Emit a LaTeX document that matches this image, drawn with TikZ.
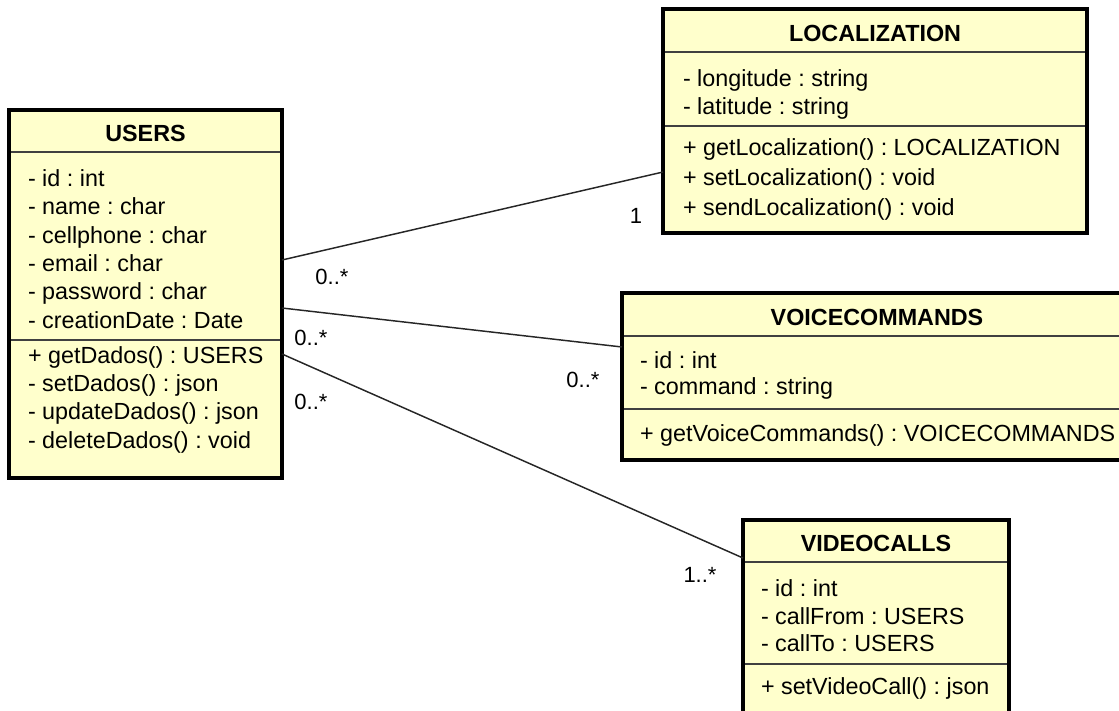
\documentclass[tikz,border=0pt]{standalone}
\usepackage{fontspec}
\setmainfont{Liberation Sans}
\usetikzlibrary{positioning,fit,calc}
\definecolor{umlfill}{RGB}{255,255,204}
\frenchspacing

\begin{document}
\begin{tikzpicture}[
  x=0.75pt, y=-0.75pt,
  every node/.style={inner sep=0pt, outer sep=0pt},
  classbox/.style={draw=black, line width=2.6pt, fill=umlfill},
  ctitle/.style={font=\fontsize{17.5}{21}\selectfont\bfseries},
  member/.style={anchor=west, font=\fontsize{17.5}{21}\selectfont, text height=12.5pt, text depth=3.5pt},
  mult/.style={font=\fontsize{16.5}{18}\selectfont, text height=11.5pt, text depth=0pt},
  sepline/.style={line width=1.1pt, draw=black!75},
  assoc/.style={line width=1.1pt, draw=black!85}
]
\useasboundingbox (0,0) rectangle (1119,710);
\clip (0,0) rectangle (1119,710);

% Class boxes (coordinates in px of the layout)
\node[classbox, fit={(9,110) (282,478)}]   (users) {};
\node[classbox, fit={(663,9) (1087,233)}]  (loc)   {};
\node[classbox, fit={(622,293) (1132,460)}] (voice) {};
\node[classbox, fit={(743,520) (1009,740)}] (video) {};

% Compartment lines
\draw[sepline] (9,152) -- (282,152);
\draw[sepline] (9,340) -- (282,340);
\draw[sepline] (663,52) -- (1087,52);
\draw[sepline] (663,126) -- (1087,126);
\draw[sepline] (622,336) -- (1132,336);
\draw[sepline] (622,409) -- (1132,409);
\draw[sepline] (743,562) -- (1009,562);
\draw[sepline] (743,664) -- (1009,664);
% redraw borders over the compartment lines
\draw[line width=2.6pt] (users.north west) rectangle (users.south east);
\draw[line width=2.6pt] (loc.north west) rectangle (loc.south east);
\draw[line width=2.6pt] (voice.north west) rectangle (voice.south east);
\draw[line width=2.6pt] (video.north west) rectangle (video.south east);

% Titles
\node[ctitle] (users-t) at (145.5,133) {USERS};
\node[ctitle] (loc-t)   at (875,33)    {LOCALIZATION};
\node[ctitle] (voice-t) at (877,317)   {VOICECOMMANDS};
\node[ctitle] (video-t) at (876,543)   {VIDEOCALLS};

% Members
\foreach \m/\y [count=\i] in {- id : int/180, - name : char/208, - cellphone : char/237,
    - email : char/265, - password : char/293, - creationDate : Date/322,
    + getDados() : USERS/357, - setDados() : json/385,
    - updateDados() : json/413, - deleteDados() : void/442}
  \node[member] (users-m\i) at (28,\y) {\m};
\foreach \m/\y [count=\i] in {- longitude : string/80, - latitude : string/108,
    + getLocalization() : LOCALIZATION/149, + setLocalization() : void/179,
    + sendLocalization() : void/209}
  \node[member] (loc-m\i) at (683,\y) {\m};
\foreach \m/\y [count=\i] in {- id : int/362, - command : string/388,
    + getVoiceCommands() : VOICECOMMANDS/435}
  \node[member] (voice-m\i) at (640,\y) {\m};
\foreach \m/\y [count=\i] in {- id : int/590, - callFrom : USERS/618,
    - callTo : USERS/645, + setVideoCall() : json/688}
  \node[member] (video-m\i) at (761,\y) {\m};

% Associations
\draw[assoc] ($(users.north east)+(0,150)$) -- ($(loc.north west)+(0,163)$);
\draw[assoc] ($(users.north east)+(0,198)$) -- ($(voice.north west)+(0,54)$);
\draw[assoc] ($(users.north east)+(0,244)$) -- ($(video.north west)+(0,38)$);

% Multiplicities
\node[mult] (m-loc-a)   at (332,277) {0..*};
\node[mult] (m-loc-b)   at (636,216) {1};
\node[mult] (m-voice-a) at (311,338) {0..*};
\node[mult] (m-voice-b) at (583,380) {0..*};
\node[mult] (m-video-a) at (311,402) {0..*};
\node[mult] (m-video-b) at (700,575) {1..*};
\end{tikzpicture}
\end{document}
